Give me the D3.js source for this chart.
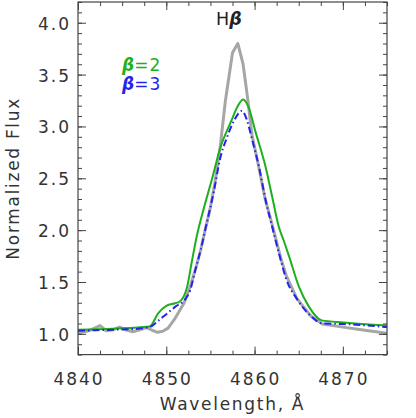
<!DOCTYPE html>
<html>
    <head>
        <meta charset="utf-8">
        <title>H beta profile</title>
        <script src="https://d3js.org/d3.v7.min.js"></script>
        <style>
         body { margin: 0; background: #fff; }
         svg text { font-family: "DejaVu Sans", sans-serif; }
        </style>
    </head>

    <body>
        <div id="chart"></div>
        <script>
         var obsWave = [4840.0, 4840.8, 4841.5, 4842.5, 4843.2, 4844.0, 4844.7, 4845.4, 4846.2, 4847.0,
                        4847.8, 4848.4, 4849.0, 4849.6, 4850.2, 4851.0, 4852.0, 4852.7, 4853.3, 4853.9,
                        4854.4, 4855.0, 4855.5, 4856.1, 4856.7, 4857.5, 4858.1, 4858.7, 4859.2, 4859.7,
                        4860.4, 4861.2, 4862.0, 4863.0, 4863.6, 4864.8, 4866.4, 4867.7, 4870.0, 4872.5, 4875.0]
         var obsFlux = [1.01, 1.02, 1.04, 1.08, 1.03, 1.04, 1.065, 1.04, 1.02, 1.04,
                        1.06, 1.035, 1.015, 1.025, 1.055, 1.15, 1.295, 1.455, 1.62, 1.81,
                        2.00, 2.22, 2.45, 2.80, 3.25, 3.71, 3.80, 3.60, 3.28, 2.92,
                        2.64, 2.30, 2.05, 1.72, 1.56, 1.34, 1.17, 1.095, 1.065, 1.035, 1.005]

         // model beta = 2 (green)
         var b2Wave = [4840.0, 4844.0, 4848.1, 4849.1, 4850.0, 4851.0, 4851.5, 4852.35, 4852.9, 4853.5,
                       4854.25, 4855.2, 4856.1, 4857.4, 4858.0, 4858.7, 4859.3, 4860.1, 4861.25, 4862.0,
                       4862.75, 4863.3, 4863.9, 4865.0, 4866.1, 4867.6, 4870.1, 4875.0]
         var b2Flux = [1.04, 1.05, 1.07, 1.20, 1.27, 1.295, 1.31, 1.45, 1.70, 1.96,
                       2.21, 2.50, 2.79, 3.06, 3.18, 3.26, 3.19, 2.95, 2.61, 2.32,
                       2.03, 1.90, 1.75, 1.46, 1.27, 1.13, 1.11, 1.08]

         // model beta = 3 (blue, dash-dot)
         var b3Wave = [4840.0, 4842.0, 4844.0, 4846.0, 4848.1, 4849.0, 4850.0, 4851.0, 4852.2, 4852.7,
                       4853.3, 4853.9, 4854.4, 4855.4, 4856.1, 4856.9, 4857.7, 4858.55, 4859.1, 4859.7,
                       4860.5, 4861.25, 4862.0, 4863.0, 4863.5, 4864.85, 4866.4, 4867.7, 4870.0, 4875.0]
         var b3Flux = [1.03, 1.035, 1.04, 1.045, 1.065, 1.12, 1.19, 1.26, 1.34, 1.42,
                       1.62, 1.81, 2.00, 2.38, 2.69, 2.90, 3.06, 3.15, 3.07, 2.88,
                       2.61, 2.29, 2.03, 1.70, 1.55, 1.33, 1.17, 1.10, 1.095, 1.065]

         var xMajor = [4840, 4850, 4860, 4870]
         var yMajor = [1.0, 1.5, 2.0, 2.5, 3.0, 3.5, 4.0]

         var W = 416, H = 418
         var margin = {left: 78, top: 2, right: 29, bottom: 63.4}
         var iw = W - margin.left - margin.right
         var ih = H - margin.top - margin.bottom

         var x = d3.scaleLinear().domain([4840, 4875]).range([0, iw])
         var y = d3.scaleLinear().domain([0.8, 4.2]).range([ih, 0])

         var svg = d3.select("#chart").append("svg")
                     .attr("width", W).attr("height", H)
         var g = svg.append("g")
                    .attr("transform", "translate(" + margin.left + "," + margin.top + ")")

         g.append("clipPath").attr("id", "clip")
          .append("rect").attr("width", iw).attr("height", ih)

         function zip(a, b){
             return a.map(function(v, i){ return [v, b[i]] })
         }

         var plot = g.append("g").attr("clip-path", "url(#clip)")

         var lineLin = d3.line()
                         .x(function(d){ return x(d[0]) })
                         .y(function(d){ return y(d[1]) })
         var lineSmooth = d3.line()
                            .curve(d3.curveMonotoneX)
                            .x(function(d){ return x(d[0]) })
                            .y(function(d){ return y(d[1]) })

         plot.append("path")
             .attr("d", lineLin(zip(obsWave, obsFlux)))
             .attr("fill", "none")
             .attr("stroke", "#a6a6a6")
             .attr("stroke-width", 3)
             .attr("stroke-linejoin", "round")
         plot.append("path")
             .attr("d", lineSmooth(zip(b2Wave, b2Flux)))
             .attr("fill", "none")
             .attr("stroke", "#1db01d")
             .attr("stroke-width", 2)
         plot.append("path")
             .attr("d", lineSmooth(zip(b3Wave, b3Flux)))
             .attr("fill", "none")
             .attr("stroke", "#2323f0")
             .attr("stroke-width", 2)
             .attr("stroke-dasharray", "7,3,1.5,3")

         // axes: IDL style box with ticks on all four sides
         var axisColor = "#444"
         var xMinor = d3.range(4840, 4875.01, 2.5)
         var yMinor = d3.range(0.8, 4.201, 0.1)

         function ticks(sel, axis, len){
             sel.call(axis.tickSize(len).tickFormat(""))
                .call(function(a){ a.select(".domain").remove() })
             sel.selectAll(".tick line").attr("stroke", axisColor)
         }
         ticks(g.append("g").attr("transform", "translate(0," + ih + ")"),
               d3.axisTop(x).tickValues(xMinor), 4)
         ticks(g.append("g").attr("transform", "translate(0," + ih + ")"),
               d3.axisTop(x).tickValues(xMajor), 8)
         ticks(g.append("g"), d3.axisBottom(x).tickValues(xMinor), 4)
         ticks(g.append("g"), d3.axisBottom(x).tickValues(xMajor), 8)
         ticks(g.append("g"), d3.axisRight(y).tickValues(yMinor), 4)
         ticks(g.append("g"), d3.axisRight(y).tickValues(yMajor), 8)
         ticks(g.append("g").attr("transform", "translate(" + iw + ",0)"),
               d3.axisLeft(y).tickValues(yMinor), 4)
         ticks(g.append("g").attr("transform", "translate(" + iw + ",0)"),
               d3.axisLeft(y).tickValues(yMajor), 8)

         g.append("rect")
          .attr("width", iw).attr("height", ih)
          .attr("fill", "none")
          .attr("stroke", axisColor)
          .attr("stroke-width", 1.2)

         // tick labels
         g.selectAll(".xlab").data(xMajor).enter().append("text")
          .attr("x", function(d){ return x(d) + 1 })
          .attr("y", ih + 30.5)
          .attr("text-anchor", "middle")
          .attr("font-size", 17)
          .attr("letter-spacing", 2)
          .attr("fill", "#333")
          .text(function(d){ return d })
         g.selectAll(".ylab").data(yMajor).enter().append("text")
          .attr("x", -7)
          .attr("y", function(d){ return y(d) + 7 })
          .attr("text-anchor", "end")
          .attr("font-size", 17)
          .attr("letter-spacing", 2)
          .attr("fill", "#333")
          .text(function(d){ return d.toFixed(1) })

         // axis titles
         g.append("text")
          .attr("x", iw / 2)
          .attr("y", H - margin.top - 8)
          .attr("text-anchor", "middle")
          .attr("font-size", 17)
          .attr("letter-spacing", 1.7)
          .attr("fill", "#333")
          .text("Wavelength, Å")
         g.append("text")
          .attr("transform", "translate(" + (19 - margin.left) + "," + (ih / 2) + ") rotate(-90)")
          .attr("text-anchor", "middle")
          .attr("font-size", 17)
          .attr("letter-spacing", 1.7)
          .attr("fill", "#333")
          .text("Normalized Flux")

         // title
         var title = g.append("text")
                      .attr("x", 138).attr("y", 22.5)
                      .attr("font-size", 17.5)
                      .attr("fill", "#222")
         title.append("tspan").text("H")
         title.append("tspan").attr("font-weight", "bold").attr("font-style", "italic").text("β")

         // legend
         var legend = [["β", "=2", "#1db01d"], ["β", "=3", "#2323f0"]]
         legend.forEach(function(l, i){
             var t = g.append("text")
                      .attr("x", 44).attr("y", 68.7 + i * 19.3)
                      .attr("font-size", 17)
                      .attr("fill", l[2])
             t.append("tspan").attr("font-weight", "bold").attr("font-style", "italic").text(l[0])
             t.append("tspan").attr("letter-spacing", 1).text(l[1])
         })
        </script>
    </body>

</html>
